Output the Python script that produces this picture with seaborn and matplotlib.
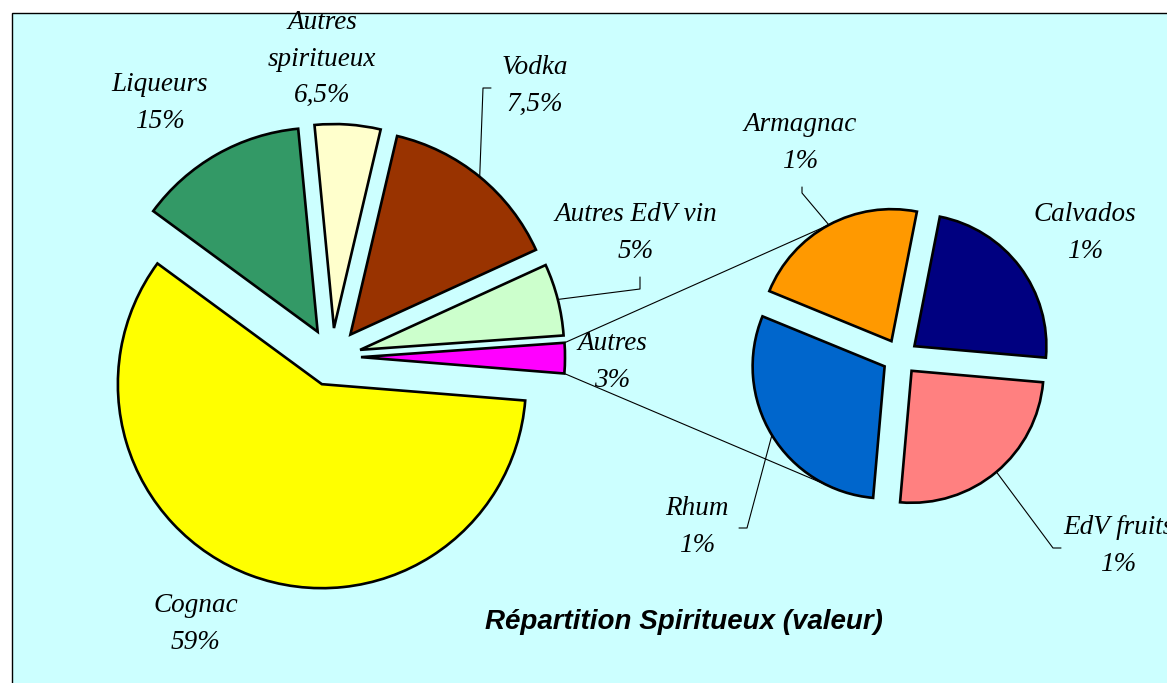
"""
Pie-of-pie chart: Répartition Spiritueux (valeur).
"""

import math

import matplotlib.pyplot as plt
import seaborn as sns
from matplotlib.patches import Rectangle

# main pie, counter-clockwise from the "Autres" slice
main_names = ["Autres", "Autres EdV vin", "Vodka", "Autres\nspiritueux", "Liqueurs", "Cognac"]
main_shares = [2.4, 5.7, 14.5, 5.2, 13.4, 58.8]
main_pct = ["3%", "5%", "7,5%", "6,5%", "15%", "59%"]
main_colors = ["#FF00FF", "#CCFFCC", "#993300", "#FFFFCC", "#339966", "#FFFF00"]

# secondary pie (breakdown of "Autres"), counter-clockwise from EdV fruits
sub_names = ["EdV fruits", "Calvados", "Armagnac", "Rhum"]
sub_shares = [25.0, 23.3, 21.9, 29.8]
sub_pct = ["1%", "1%", "1%", "1%"]
sub_colors = ["#FF8080", "#000080", "#FF9900", "#0066CC"]

TITLE = "Répartition Spiritueux (valeur)"

W, H = 1167, 683


def iy(y):
    # image pixel row -> data y (y axis points up)
    return H - y


def arc_point(w, ang):
    cx, cy = w.center
    return cx + w.r * math.cos(math.radians(ang)), cy + w.r * math.sin(math.radians(ang))


def main():
    sns.set_theme(style="white")
    plt.rcParams["font.family"] = ["Liberation Serif", "DejaVu Serif"]
    plt.rcParams["text.color"] = "black"

    fig = plt.figure(figsize=(W / 100, H / 100), dpi=100, facecolor="white")
    ax = fig.add_axes([0, 0, 1, 1])

    ax.add_patch(Rectangle((12, -20), W, iy(13) + 20, facecolor="#CCFFFF",
                           edgecolor="black", lw=1, zorder=0))

    wedge_kw = dict(edgecolor="black", linewidth=1.9, joinstyle="miter")
    main_wedges, _ = ax.pie(
        main_shares, colors=sns.color_palette(main_colors), startangle=-4.6,
        center=(332, iy(357)), radius=204, explode=[29] * len(main_shares),
        wedgeprops=wedge_kw, frame=True,
    )
    sub_wedges, _ = ax.pie(
        sub_shares, colors=sns.color_palette(sub_colors), startangle=-95,
        center=(900, iy(357)), radius=132, explode=[18] * len(sub_shares),
        wedgeprops=wedge_kw, frame=True,
    )

    # connector lines between "Autres" and the secondary pie
    autres = main_wedges[0]
    for a_main, w_sub, a_sub in [(autres.theta2, sub_wedges[2], 118),
                                 (autres.theta1, sub_wedges[3], 250)]:
        x0, y0 = arc_point(autres, a_main)
        x1, y1 = arc_point(w_sub, a_sub)
        ax.plot([x0, x1], [y0, y1], color="black", lw=0.8, zorder=3)

    # label positions (image px, centre of the text block)
    main_pos = [(612, 362), (636, 233), (535, 86), (322, 59), (160, 103), (196, 624)]
    sub_pos = [(1118, 546), (1085, 233), (800, 143), (697, 527)]
    leaders = {
        "Vodka": [(483, 88), (491, 88)],
        "Autres EdV vin": [(640, 289), (640, 277)],
        "Armagnac": [(802, 193), (802, 187)],
        "Rhum": [(747, 528), (739, 528)],
        "EdV fruits": [(1053, 548), (1061, 548)],
    }

    for wedges, names, pcts, pos in [(main_wedges, main_names, main_pct, main_pos),
                                     (sub_wedges, sub_names, sub_pct, sub_pos)]:
        for w, name, pct, (px, py) in zip(wedges, names, pcts, pos):
            ax.text(px, iy(py), f"{name}\n{pct}", ha="center", va="center",
                    fontsize=19.5, style="italic", linespacing=1.62, zorder=4)
            if name in leaders:
                x0, y0 = arc_point(w, (w.theta1 + w.theta2) / 2)
                xs = [x0] + [p[0] for p in leaders[name]]
                ys = [y0] + [iy(p[1]) for p in leaders[name]]
                ax.plot(xs, ys, color="black", lw=0.8, zorder=3)

    ax.text(684, iy(622), TITLE, ha="center", va="center", fontsize=20,
            fontweight="bold", style="italic", family=["Liberation Sans", "DejaVu Sans"])

    ax.set_xlim(0, W)
    ax.set_ylim(0, H)
    ax.set_aspect("equal")
    ax.axis("off")
    fig.savefig("out.png", dpi=100, facecolor="white")


if __name__ == "__main__":
    main()
